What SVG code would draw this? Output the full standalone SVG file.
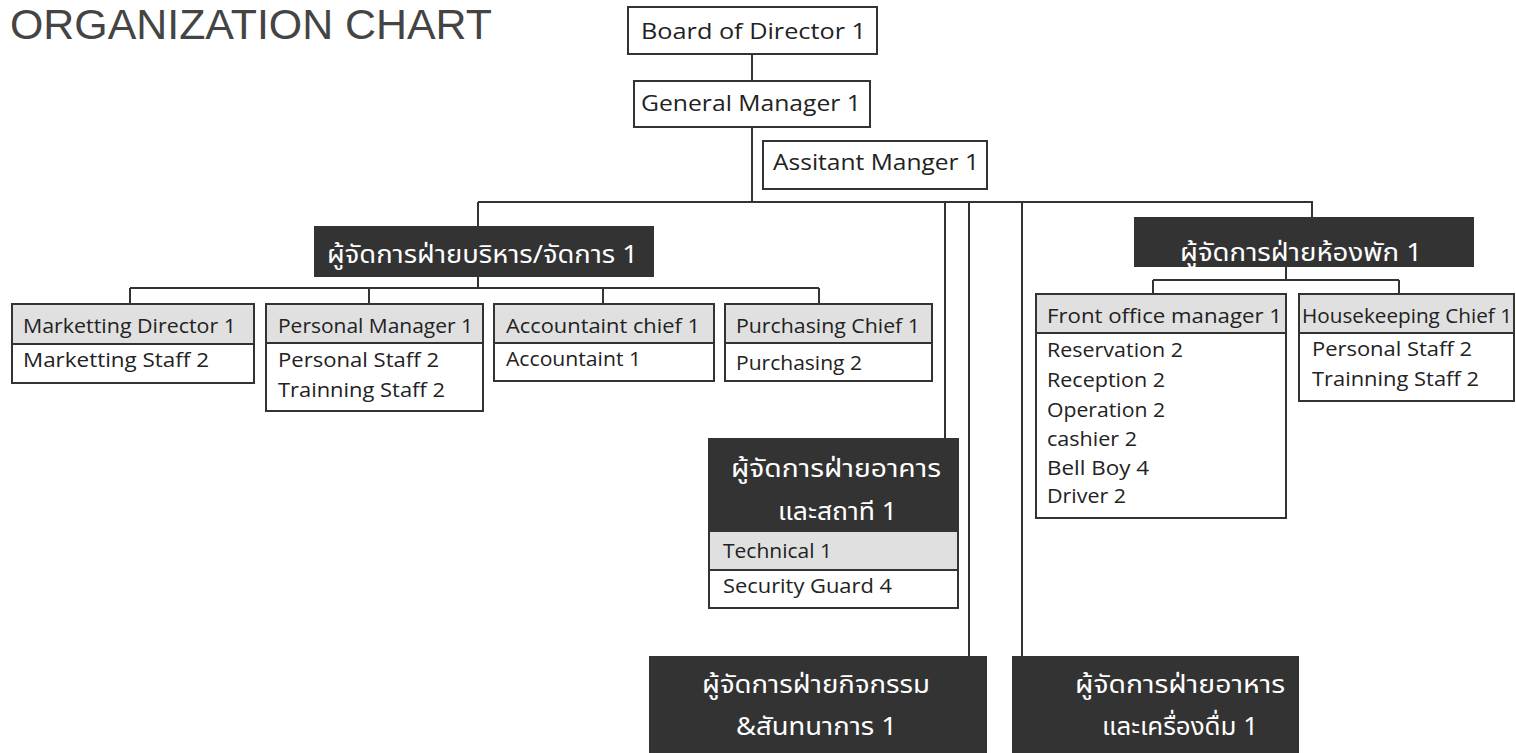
<svg xmlns="http://www.w3.org/2000/svg" width="1516" height="753" viewBox="0 0 1516 753">
<style>
.bg{fill:#fff}
.box{fill:#fff;stroke:#333;stroke-width:2}
.hdr{fill:#e0e0e0;stroke:#333;stroke-width:2}
.dark{fill:#333;stroke:#333;stroke-width:2}
.t{font-family:"Open Sans","Noto Sans","DejaVu Sans",sans-serif;font-size:20px;fill:#222}
.t21{font-size:21px}
.th{font-family:"Noto Sans","Noto Sans Thai","DejaVu Sans",sans-serif;font-size:25px;fill:#fff}
.title{font-family:"Liberation Sans",Arial,sans-serif;font-size:43px;fill:#444}
.con{fill:none;stroke:#333;stroke-width:2}
</style>
<rect class="bg" x="0" y="0" width="1516" height="753"/>
<text class="title" x="10" y="39" textLength="482" lengthAdjust="spacingAndGlyphs">ORGANIZATION CHART</text>

<g id="connectors">
<path class="con" d="M752 54V81M752 127V202M478 202H1312V218M478 202V228M945 202V439M969 202V657M1022 202V657"/>
<path class="con" d="M478 276V288M130 288H819M130 288V304M369 288V304M603 288V304M819 288V304"/>
<path class="con" d="M1286 266V280M1153 280H1399M1153 280V294M1399 280V294"/>
</g>

<g id="board">
<rect class="box" x="628" y="7" width="249" height="47"/>
<text class="t t21" x="641" y="39" textLength="225" lengthAdjust="spacingAndGlyphs">Board of Director 1</text>
</g>
<g id="gm">
<rect class="box" x="634" y="81" width="236" height="46"/>
<text class="t t21" x="641" y="111" textLength="220" lengthAdjust="spacingAndGlyphs">General Manager 1</text>
</g>
<g id="am">
<rect class="box" x="763" y="141" width="224" height="48"/>
<text class="t t21" x="773" y="170" textLength="206" lengthAdjust="spacingAndGlyphs">Assitant Manger 1</text>
</g>

<g id="admin">
<rect class="dark" x="315" y="227" width="338" height="49"/>
<text class="th" x="327" y="263" textLength="311" lengthAdjust="spacingAndGlyphs">ผู้จัดการฝ่ายบริหาร/จัดการ 1</text>
</g>

<g id="marketing">
<rect class="box" x="12" y="304" width="242" height="79"/>
<rect class="hdr" x="12" y="304" width="242" height="40"/>
<text class="t" x="23" y="333" textLength="213" lengthAdjust="spacingAndGlyphs">Marketting Director 1</text>
<text class="t" x="23" y="367" textLength="186" lengthAdjust="spacingAndGlyphs">Marketting Staff 2</text>
</g>
<g id="personal">
<rect class="box" x="266" y="304" width="217" height="107"/>
<rect class="hdr" x="266" y="304" width="217" height="39"/>
<text class="t" x="278" y="333" textLength="195" lengthAdjust="spacingAndGlyphs">Personal Manager 1</text>
<text class="t" x="278" y="367" textLength="161" lengthAdjust="spacingAndGlyphs">Personal Staff 2</text>
<text class="t" x="278" y="397" textLength="167" lengthAdjust="spacingAndGlyphs">Trainning Staff 2</text>
</g>
<g id="account">
<rect class="box" x="494" y="304" width="220" height="77"/>
<rect class="hdr" x="494" y="304" width="220" height="39"/>
<text class="t" x="506" y="333" textLength="194" lengthAdjust="spacingAndGlyphs">Accountaint chief 1</text>
<text class="t" x="506" y="366" textLength="135" lengthAdjust="spacingAndGlyphs">Accountaint 1</text>
</g>
<g id="purchasing">
<rect class="box" x="725" y="304" width="207" height="77"/>
<rect class="hdr" x="725" y="304" width="207" height="39"/>
<text class="t" x="736" y="333" textLength="184" lengthAdjust="spacingAndGlyphs">Purchasing Chief 1</text>
<text class="t" x="736" y="370" textLength="126" lengthAdjust="spacingAndGlyphs">Purchasing 2</text>
</g>

<g id="rooms">
<rect class="dark" x="1135" y="218" width="338" height="48"/>
<text class="th" x="1180" y="261" textLength="242" lengthAdjust="spacingAndGlyphs">ผู้จัดการฝ่ายห้องพัก 1</text>
</g>
<g id="frontoffice">
<rect class="box" x="1036" y="294" width="250" height="224"/>
<rect class="hdr" x="1036" y="294" width="250" height="39"/>
<text class="t" x="1047" y="323" textLength="235" lengthAdjust="spacingAndGlyphs">Front office manager 1</text>
<text class="t" x="1047" y="357" textLength="136" lengthAdjust="spacingAndGlyphs">Reservation 2</text>
<text class="t" x="1047" y="387" textLength="118" lengthAdjust="spacingAndGlyphs">Reception 2</text>
<text class="t" x="1047" y="417" textLength="118" lengthAdjust="spacingAndGlyphs">Operation 2</text>
<text class="t" x="1047" y="446" textLength="90" lengthAdjust="spacingAndGlyphs">cashier 2</text>
<text class="t" x="1047" y="475" textLength="102" lengthAdjust="spacingAndGlyphs">Bell Boy 4</text>
<text class="t" x="1047" y="503" textLength="79" lengthAdjust="spacingAndGlyphs">Driver 2</text>
</g>
<g id="housekeeping">
<rect class="box" x="1299" y="294" width="215" height="107"/>
<rect class="hdr" x="1299" y="294" width="215" height="39"/>
<text class="t" x="1302" y="323" textLength="210" lengthAdjust="spacingAndGlyphs">Housekeeping Chief 1</text>
<text class="t" x="1312" y="356" textLength="160" lengthAdjust="spacingAndGlyphs">Personal Staff 2</text>
<text class="t" x="1312" y="386" textLength="167" lengthAdjust="spacingAndGlyphs">Trainning Staff 2</text>
</g>

<g id="building">
<rect class="box" x="709" y="439" width="249" height="169"/>
<rect class="dark" x="709" y="439" width="249" height="92"/>
<rect class="hdr" x="709" y="531" width="249" height="39"/>
<text class="th" x="731" y="477" textLength="210" lengthAdjust="spacingAndGlyphs">ผู้จัดการฝ่ายอาคาร</text>
<text class="th" x="778" y="520" textLength="119" lengthAdjust="spacingAndGlyphs">และสถาที 1</text>
<text class="t" x="723" y="558" textLength="109" lengthAdjust="spacingAndGlyphs">Technical 1</text>
<text class="t" x="723" y="593" textLength="169" lengthAdjust="spacingAndGlyphs">Security Guard 4</text>
</g>

<g id="activity">
<rect class="dark" x="650" y="657" width="336" height="100"/>
<text class="th" x="702" y="693" textLength="228" lengthAdjust="spacingAndGlyphs">ผู้จัดการฝ่ายกิจกรรม</text>
<text class="th" x="736" y="735" textLength="161" lengthAdjust="spacingAndGlyphs">&amp;สันทนาการ 1</text>
</g>

<g id="food">
<rect class="dark" x="1013" y="657" width="285" height="100"/>
<text class="th" x="1075" y="693" textLength="210" lengthAdjust="spacingAndGlyphs">ผู้จัดการฝ่ายอาหาร</text>
<text class="th" x="1102" y="735" textLength="156" lengthAdjust="spacingAndGlyphs">และเครื่องดื่ม 1</text>
</g>
</svg>
